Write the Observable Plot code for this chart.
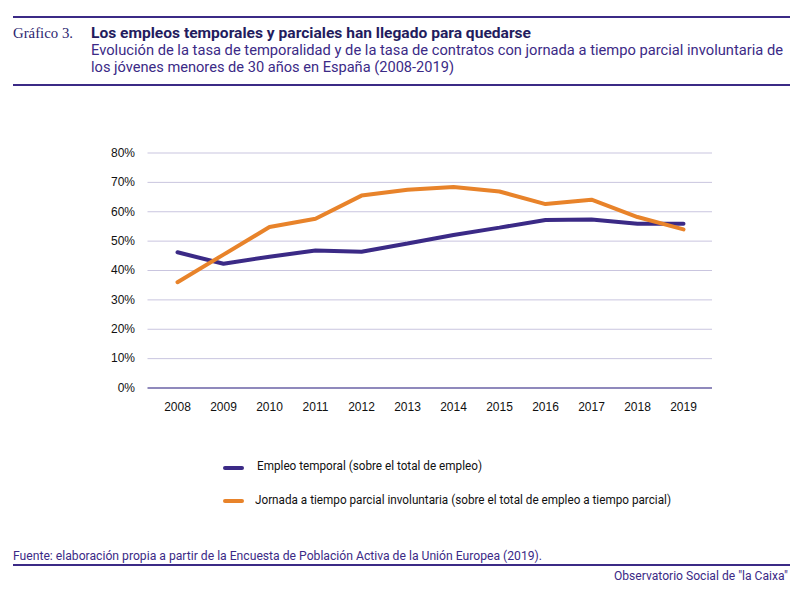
<!DOCTYPE html>
<html>
<head>
<meta charset="utf-8">
<script src="https://cdn.jsdelivr.net/npm/d3@7"></script>
<script src="https://cdn.jsdelivr.net/npm/@observablehq/plot@0.6"></script>
<style>
  html, body { margin: 0; padding: 0; background: #fff; }
  body { width: 800px; height: 591px; position: relative; overflow: hidden; font-family: Roboto, "Liberation Sans", sans-serif; }
  .abs { position: absolute; white-space: nowrap; display: inline-block; }
  .rule { position: absolute; left: 13px; width: 777px; background: #3b2a86; }
  #chart { position: absolute; left: 0; top: 0; }
  .sw { position: absolute; width: 21px; height: 4px; border-radius: 2px; }
</style>
</head>
<body>
<div class="rule" style="top:15.5px;height:2px;"></div>
<div class="abs fit" data-w="60" style="left:13px;top:24px;line-height:18px;font-family:'Liberation Serif','DejaVu Serif',serif;font-size:15px;color:#2d2670;">Gráfico 3.</div>
<div class="abs fit" data-w="440" style="left:90.5px;top:24px;line-height:18px;font-size:15px;font-weight:bold;color:#231c5e;">Los empleos temporales y parciales han llegado para quedarse</div>
<div class="abs fit" data-w="692" style="left:90.5px;top:41px;line-height:18px;font-size:15px;color:#3b2a86;">Evolución de la tasa de temporalidad y de la tasa de contratos con jornada a tiempo parcial involuntaria de</div>
<div class="abs fit" data-w="363" style="left:90.5px;top:58px;line-height:18px;font-size:15px;color:#3b2a86;">los jóvenes menores de 30 años en España (2008-2019)</div>
<div class="rule" style="top:83.5px;height:2px;"></div>

<div id="chart"></div>

<div class="sw" style="left:223px;top:465.5px;background:#3b2a86;"></div>
<div class="abs fit" data-w="225" style="left:256.5px;top:458px;line-height:16px;font-size:13px;color:#111;">Empleo temporal (sobre el total de empleo)</div>
<div class="sw" style="left:223px;top:499px;background:#e8832a;"></div>
<div class="abs fit" data-w="416" style="left:254.5px;top:492px;line-height:16px;font-size:13px;color:#111;">Jornada a tiempo parcial involuntaria (sobre el total de empleo a tiempo parcial)</div>

<div class="abs fit" data-w="529" style="left:13px;top:548px;line-height:16px;font-size:12.5px;color:#3b2a86;">Fuente: elaboración propia a partir de la Encuesta de Población Activa de la Unión Europea (2019).</div>
<div class="rule" style="top:564px;height:2px;"></div>
<div class="abs fit" data-w="174" style="left:614px;top:568px;line-height:16px;font-size:12.5px;color:#3b2a86;">Observatorio Social de "la Caixa"</div>

<script>
const years = [2008, 2009, 2010, 2011, 2012, 2013, 2014, 2015, 2016, 2017, 2018, 2019];
const empleoTemporal = [46.2, 42.3, 44.7, 46.8, 46.4, 49.2, 52.1, 54.6, 57.2, 57.4, 55.9, 55.9];
const jornadaParcial = [36.0, 45.4, 54.8, 57.6, 65.5, 67.5, 68.4, 66.9, 62.6, 64.1, 58.2, 54.0];
const yTicks = [0, 10, 20, 30, 40, 50, 60, 70, 80];
const seriesNames = ["Empleo temporal", "Jornada parcial involuntaria"];
const seriesColors = ["#3b2a86", "#e8832a"];

// Fit condensed text widths
document.querySelectorAll(".fit").forEach(el => {
  const target = +el.dataset.w;
  const w = el.getBoundingClientRect().width;
  if (w > 0) {
    el.style.transformOrigin = "0 50%";
    el.style.transform = `scaleX(${target / w})`;
  }
});

const data = [];
years.forEach((y, i) => {
  data.push({year: String(y), value: empleoTemporal[i], serie: seriesNames[0]});
  data.push({year: String(y), value: jornadaParcial[i], serie: seriesNames[1]});
});

const H = 420;
const chart = Plot.plot({
  width: 800,
  height: H,
  marginTop: 152.5,
  marginBottom: H - 387.5,
  marginLeft: 147.5,
  marginRight: 88,
  style: {fontFamily: "'Liberation Sans', Arial, sans-serif", fontSize: "12px", color: "#111", background: "transparent"},
  x: {type: "point", domain: years.map(String), padding: 0.57, label: null},
  y: {domain: [0, 80], label: null},
  color: {domain: seriesNames, range: seriesColors},
  marks: [
    Plot.ruleY(yTicks.filter(d => d > 0), {stroke: "#c9c5df", strokeWidth: 1}),
    Plot.ruleY([0], {stroke: "#6a62a6", strokeWidth: 1.5}),
    Plot.axisX({tickSize: 0, tickPadding: 14, fontSize: 12, label: null}),
    Plot.axisY({ticks: yTicks, tickSize: 0, tickPadding: 13, tickFormat: d => d + "%", fontSize: 12, label: null}),
    Plot.line(data, {x: "year", y: "value", z: "serie", stroke: "serie", strokeWidth: 4, strokeLinejoin: "miter", strokeLinecap: "round"})
  ]
});
document.getElementById("chart").appendChild(chart);
</script>
</body>
</html>
